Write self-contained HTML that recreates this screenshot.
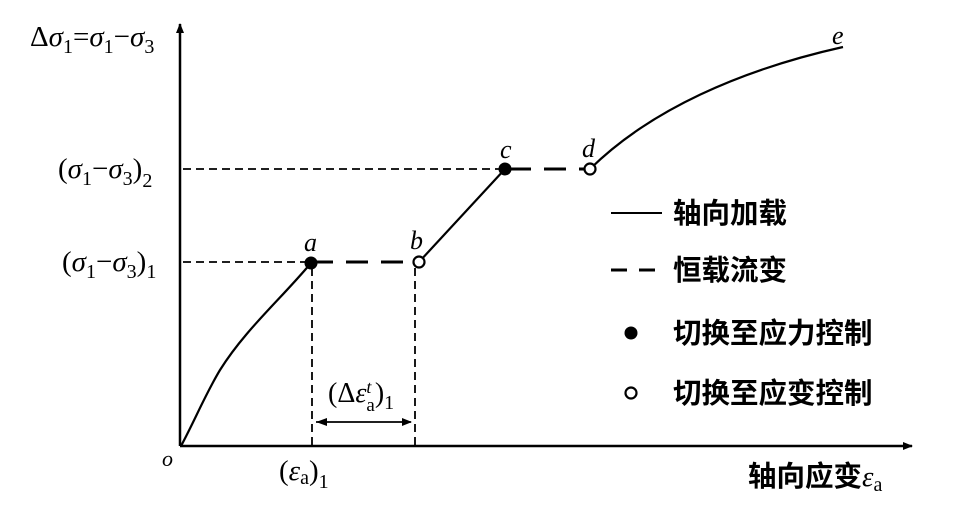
<!DOCTYPE html>
<html><head><meta charset="utf-8"><style>
body{margin:0;background:#fff;}
svg text{font-family:"Liberation Serif","Noto Serif CJK SC",serif;fill:#000;}
.cn{font-family:"Liberation Sans","Noto Sans CJK SC",sans-serif;font-size:28.5px;font-weight:bold;}
</style></head><body>
<svg width="956" height="526" viewBox="0 0 956 526" xmlns="http://www.w3.org/2000/svg">
<defs>
<marker id="ar" markerWidth="10" markerHeight="8" refX="9" refY="4" orient="auto" markerUnits="userSpaceOnUse"><path d="M0,0 L10,4 L0,8 z" fill="#000"/></marker>
</defs>
<line x1="180" y1="446" x2="180" y2="24" stroke="#000" stroke-width="2.5" marker-end="url(#ar)"/>
<line x1="180" y1="446" x2="912" y2="446" stroke="#000" stroke-width="2.5" marker-end="url(#ar)"/>
<g stroke="#000" stroke-width="1.8" stroke-dasharray="8,5" fill="none">
<line x1="183" y1="169" x2="500" y2="169"/>
<line x1="183" y1="262" x2="306" y2="262"/>
<line x1="312" y1="268" x2="312" y2="446"/>
<line x1="415" y1="268" x2="415" y2="446"/>
</g>
<line x1="316" y1="422" x2="411" y2="422" stroke="#000" stroke-width="1.8" marker-end="url(#ar)"/>
<path d="M316,422 L327,418 L327,426 z" fill="#000"/>
<path d="M181,446 C195,420 205,395 220,370 C245,330 280,300 311,263" stroke="#000" stroke-width="2.2" fill="none"/>
<line x1="419" y1="262" x2="505" y2="169" stroke="#000" stroke-width="2.2"/>
<path d="M590,169 C650,110 740,70 843,47" stroke="#000" stroke-width="2.2" fill="none"/>
<line x1="311" y1="262" x2="419" y2="262" stroke="#000" stroke-width="3" stroke-dasharray="22,13"/>
<line x1="505" y1="169" x2="590" y2="169" stroke="#000" stroke-width="3" stroke-dasharray="22,13" stroke-dashoffset="-4"/>
<circle cx="311" cy="263" r="6.5" fill="#000"/>
<circle cx="419" cy="262" r="5.5" fill="#fff" stroke="#000" stroke-width="2.2"/>
<circle cx="505" cy="169" r="6.5" fill="#000"/>
<circle cx="590" cy="169" r="5.5" fill="#fff" stroke="#000" stroke-width="2.2"/>
<g font-style="italic" font-size="26">
<text x="304" y="251">a</text>
<text x="410" y="249">b</text>
<text x="500" y="158">c</text>
<text x="582" y="157">d</text>
<text x="832" y="44">e</text>
<text x="162" y="466" font-size="22">o</text>
</g>
<text x="30" y="46" font-size="29">Δ<tspan font-style="italic">σ</tspan><tspan font-size="20" dy="7">1</tspan><tspan dy="-7">=</tspan><tspan font-style="italic">σ</tspan><tspan font-size="20" dy="7">1</tspan><tspan dy="-7">−</tspan><tspan font-style="italic">σ</tspan><tspan font-size="20" dy="7">3</tspan></text>
<text x="58" y="178" font-size="29">(<tspan font-style="italic">σ</tspan><tspan font-size="20" dy="7">1</tspan><tspan dy="-7">−</tspan><tspan font-style="italic">σ</tspan><tspan font-size="20" dy="7">3</tspan><tspan dy="-7">)</tspan><tspan font-size="20" dy="9">2</tspan></text>
<text x="62" y="271" font-size="29">(<tspan font-style="italic">σ</tspan><tspan font-size="20" dy="7">1</tspan><tspan dy="-7">−</tspan><tspan font-style="italic">σ</tspan><tspan font-size="20" dy="7">3</tspan><tspan dy="-7">)</tspan><tspan font-size="20" dy="7">1</tspan></text>
<text x="328" y="402" font-size="28">(Δ<tspan font-style="italic">ε</tspan><tspan font-size="18" dy="-9" font-style="italic">t</tspan><tspan font-size="19" dx="-5" dy="18">a</tspan><tspan dy="-9">)</tspan><tspan font-size="20" dy="7">1</tspan></text>
<text x="279" y="480" font-size="29">(<tspan font-style="italic">ε</tspan><tspan font-size="20" dy="4">a</tspan><tspan dy="-4">)</tspan><tspan font-size="20" dy="8">1</tspan></text>
<text x="748" y="486" class="cn">轴向应变<tspan font-family="Liberation Serif" font-weight="normal" font-style="italic" font-size="29">ε</tspan><tspan font-family="Liberation Serif" font-weight="normal" font-size="20" dy="5">a</tspan></text>
<line x1="611" y1="213" x2="662" y2="213" stroke="#000" stroke-width="2"/>
<text x="673" y="223" class="cn">轴向加载</text>
<line x1="611" y1="270" x2="662" y2="270" stroke="#000" stroke-width="3" stroke-dasharray="16,12"/>
<text x="673" y="280" class="cn">恒载流变</text>
<circle cx="631" cy="333" r="6.5" fill="#000"/>
<text x="673" y="343" class="cn">切换至应力控制</text>
<circle cx="631" cy="393" r="5.5" fill="#fff" stroke="#000" stroke-width="2.2"/>
<text x="673" y="403" class="cn">切换至应变控制</text>
</svg>
</body></html>
